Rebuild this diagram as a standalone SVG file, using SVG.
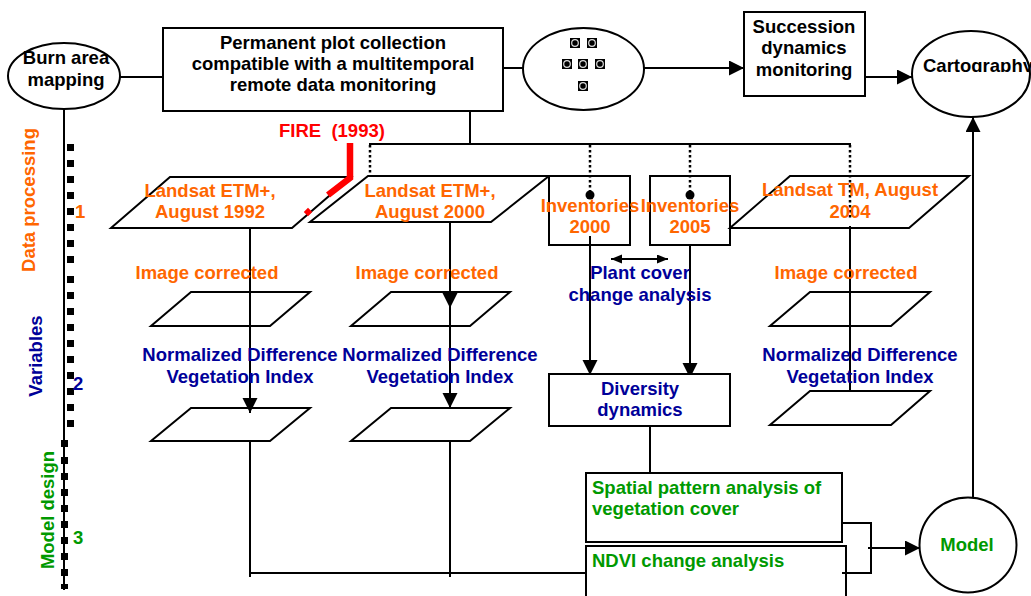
<svg xmlns="http://www.w3.org/2000/svg" width="1031" height="596" viewBox="0 0 1031 596">
<style>
text{font-family:"Liberation Sans",Arial,sans-serif;font-weight:bold;font-size:18.5px}
.k{fill:#000}.o{fill:#FF6600}.b{fill:#000099}.g{fill:#009900}.r{fill:#FF0000}
.m{text-anchor:middle}
.sh{fill:#fff;stroke:#000;stroke-width:2}
.ln{fill:none;stroke:#000;stroke-width:2}
.dt{fill:none;stroke:#000;stroke-width:2.5;stroke-dasharray:2.5 2.5}
.sq{fill:#000}
</style>
<defs>
<marker id="ah" markerUnits="userSpaceOnUse" markerWidth="16" markerHeight="16" refX="15" refY="7.5" orient="auto"><path d="M0,0 L15,7.5 L0,15 z" fill="#000"/></marker>
<marker id="sa" markerUnits="userSpaceOnUse" markerWidth="12" markerHeight="10" refX="11" refY="4.5" orient="auto-start-reverse"><path d="M0,0 L11,4.5 L0,9 z" fill="#000"/></marker>
<clipPath id="cc"><rect x="912" y="40" width="119" height="32"/></clipPath>
</defs>

<g id="axis">
<line class="ln" x1="64" y1="108" x2="64" y2="590" stroke-width="2.5"/>
<g class="sq">
<rect x="67" y="144" width="7" height="7"/><rect x="67" y="160" width="7" height="7"/><rect x="67" y="176" width="7" height="7"/><rect x="67" y="192" width="7" height="7"/><rect x="67" y="208" width="7" height="7"/><rect x="67" y="224" width="7" height="7"/><rect x="67" y="240" width="7" height="7"/><rect x="67" y="256" width="7" height="7"/>
<rect x="67" y="276" width="7" height="7"/><rect x="67" y="292" width="7" height="7"/><rect x="67" y="308" width="7" height="7"/><rect x="67" y="324" width="7" height="7"/><rect x="67" y="340" width="7" height="7"/><rect x="67" y="356" width="7" height="7"/><rect x="67" y="372" width="7" height="7"/><rect x="67" y="388" width="7" height="7"/><rect x="67" y="404" width="7" height="7"/><rect x="67" y="420" width="7" height="7"/>
<rect x="61" y="440" width="7" height="7"/><rect x="61" y="457" width="7" height="7"/><rect x="61" y="473" width="7" height="7"/><rect x="61" y="489" width="7" height="7"/><rect x="61" y="505" width="7" height="7"/><rect x="61" y="521" width="7" height="7"/><rect x="61" y="537" width="7" height="7"/><rect x="61" y="553" width="7" height="7"/><rect x="61" y="569" width="7" height="7"/><rect x="61" y="584" width="7" height="5"/>
</g>
<text class="o m" transform="translate(35,200) rotate(-90)">Data processing</text>
<text class="b m" transform="translate(42,356) rotate(-90)">Variables</text>
<text class="g m" transform="translate(54,510) rotate(-90)">Model design</text>
<text class="o" x="75" y="218">1</text>
<text class="b" x="73" y="390">2</text>
<text class="g" x="73" y="544">3</text>
</g>

<g id="connectors">
<line class="ln" x1="120" y1="77" x2="163" y2="77"/>
<line class="ln" x1="503" y1="68" x2="523" y2="68"/>
<line class="ln" x1="644" y1="68" x2="744" y2="68" marker-end="url(#ah)"/>
<line class="ln" x1="862" y1="77" x2="912" y2="77" marker-end="url(#ah)"/>
<line class="ln" x1="470" y1="111" x2="470" y2="144"/>
<line class="ln" x1="369" y1="144" x2="851" y2="144"/>
<line class="dt" x1="370" y1="145" x2="370" y2="212"/>
<line class="dt" x1="590" y1="145" x2="590" y2="195"/>
<line class="dt" x1="690" y1="145" x2="690" y2="195"/>
<line class="dt" x1="850" y1="145" x2="850" y2="218"/>
<circle cx="370" cy="212" r="4.5" fill="#000"/>
<circle cx="590" cy="195" r="4.5" fill="#000"/>
<circle cx="690" cy="195" r="4.5" fill="#000"/>
<line class="ln" x1="850" y1="226" x2="850" y2="391"/>
<line class="ln" x1="250" y1="228" x2="250" y2="413" marker-end="url(#ah)"/>
<line class="ln" x1="450" y1="222" x2="450" y2="308" marker-end="url(#ah)"/>
<line class="ln" x1="450" y1="300" x2="450" y2="408" marker-end="url(#ah)"/>
<line class="ln" x1="590" y1="236" x2="590" y2="375" marker-end="url(#ah)"/>
<line class="ln" x1="690" y1="245" x2="690" y2="378" marker-end="url(#ah)"/>
<line class="ln" x1="611" y1="259" x2="668" y2="259" marker-start="url(#sa)" marker-end="url(#sa)"/>
<line class="ln" x1="650" y1="426" x2="650" y2="473"/>
<line class="ln" x1="250" y1="441" x2="250" y2="577"/>
<line class="ln" x1="450" y1="441" x2="450" y2="577"/>
<line class="ln" x1="249" y1="573" x2="586" y2="573"/>
<polyline class="ln" points="842,523 871,523 871,573 842,573"/>
<line class="ln" x1="868" y1="548" x2="920" y2="548" marker-end="url(#ah)"/>
<line class="ln" x1="973" y1="497" x2="973" y2="117" marker-end="url(#ah)"/>
</g>

<g id="burn-area">
<ellipse class="sh" cx="64" cy="76" rx="56" ry="33"/>
<text class="k m" x="66" y="64">Burn area</text>
<text class="k m" x="66" y="86">mapping</text>
</g>

<g id="permanent-plot">
<rect class="sh" x="163" y="28" width="340" height="83"/>
<text class="k m" x="333" y="49">Permanent plot collection</text>
<text class="k m" x="333" y="70">compatible with a multitemporal</text>
<text class="k m" x="333" y="91">remote data monitoring</text>
</g>

<g id="plots">
<ellipse class="sh" cx="583.5" cy="69" rx="60.5" ry="41"/>
<g fill="#000" stroke="#ddd" stroke-width="1.2">
<rect x="570" y="38" width="10" height="10" stroke="none"/><circle cx="575" cy="43" r="3.3"/>
<rect x="587" y="38" width="10" height="10" stroke="none"/><circle cx="592" cy="43" r="3.3"/>
<rect x="562" y="59" width="10" height="10" stroke="none"/><circle cx="567" cy="64" r="3.3"/>
<rect x="578" y="59" width="10" height="10" stroke="none"/><circle cx="583" cy="64" r="3.3"/>
<rect x="595" y="59" width="10" height="10" stroke="none"/><circle cx="600" cy="64" r="3.3"/>
<rect x="578" y="81" width="10" height="10" stroke="none"/><circle cx="583" cy="86" r="3.3"/>
</g>
</g>

<g id="succession">
<rect class="sh" x="744" y="12" width="121" height="84"/>
<text class="k m" x="804" y="33">Succession</text>
<text class="k m" x="804" y="54">dynamics</text>
<text class="k m" x="804" y="76">monitoring</text>
</g>

<g id="cartography">
<ellipse class="sh" cx="971" cy="74" rx="59" ry="43"/>
<text class="k" x="923" y="72" clip-path="url(#cc)">Cartography</text>
</g>

<g id="landsat-1992">
<polygon class="sh" points="170,177 351,177 292,228 111,228"/>
<text class="o m" x="210" y="197">Landsat ETM+,</text>
<text class="o m" x="210" y="218">August 1992</text>
</g>

<g id="fire">
<text class="r" x="279" y="137" xml:space="preserve">FIRE  (1993)</text>
<path d="M350,143 L350,178 L328,195" fill="none" stroke="#FF0000" stroke-width="6.5"/>
<rect x="305" y="209" width="6" height="6" fill="#FF0000" transform="rotate(45 308 212)"/>
</g>

<g id="landsat-2000">
<polygon class="sh" points="368,176 549,176 491,222 310,222"/>
<text class="o m" x="430" y="197">Landsat ETM+,</text>
<text class="o m" x="430" y="218">August 2000</text>
</g>

<g id="inventories-2000">
<rect class="ln" x="549" y="176" width="81" height="69"/>
<text class="o m" x="590" y="212">Inventories</text>
<text class="o m" x="590" y="233">2000</text>
</g>

<g id="inventories-2005">
<rect class="ln" x="650" y="176" width="80" height="69"/>
<text class="o m" x="690" y="212">Inventories</text>
<text class="o m" x="690" y="233">2005</text>
</g>

<g id="landsat-2004">
<polygon class="ln" points="790,176 969,176 909,228 730,228"/>
<text class="o m" x="850" y="196">Landsat TM, August</text>
<text class="o m" x="850" y="218">2004</text>
</g>

<g id="image-corrected-1">
<text class="o m" x="207" y="279">Image corrected</text>
<polygon class="ln" points="191,292 310,292 270,326 151,326"/>
</g>
<g id="image-corrected-2">
<text class="o m" x="427" y="279">Image corrected</text>
<polygon class="ln" points="391,292 510,292 470,326 351,326"/>
</g>
<g id="image-corrected-3">
<text class="o m" x="846" y="279">Image corrected</text>
<polygon class="ln" points="810,292 930,292 891,326 770,326"/>
</g>

<g id="plant-cover">
<text class="b m" x="640" y="279">Plant cover</text>
<text class="b m" x="640" y="301">change analysis</text>
</g>

<g id="ndvi-1">
<text class="b m" x="240" y="361">Normalized Difference</text>
<text class="b m" x="240" y="383">Vegetation Index</text>
<polygon class="ln" points="191,408 310,408 270,441 151,441"/>
</g>
<g id="ndvi-2">
<text class="b m" x="440" y="361">Normalized Difference</text>
<text class="b m" x="440" y="383">Vegetation Index</text>
<polygon class="ln" points="391,408 510,408 470,441 351,441"/>
</g>
<g id="ndvi-3">
<text class="b m" x="860" y="361">Normalized Difference</text>
<text class="b m" x="860" y="383">Vegetation Index</text>
<polygon class="ln" points="810,391 930,391 891,425 770,425"/>
</g>

<g id="diversity">
<rect class="sh" x="549" y="374" width="181" height="52"/>
<text class="b m" x="640" y="395">Diversity</text>
<text class="b m" x="640" y="416">dynamics</text>
</g>

<g id="spatial-pattern">
<rect class="sh" x="586" y="473" width="256" height="69"/>
<text class="g" x="592" y="494">Spatial pattern analysis of</text>
<text class="g" x="592" y="515">vegetation cover</text>
</g>

<g id="ndvi-change">
<rect class="ln" x="586" y="546" width="260" height="60"/>
<text class="g" x="592" y="567">NDVI change analysis</text>
</g>

<g id="model">
<ellipse class="sh" cx="968" cy="545" rx="48.5" ry="47.5"/>
<text class="g m" x="967" y="551">Model</text>
</g>
</svg>
